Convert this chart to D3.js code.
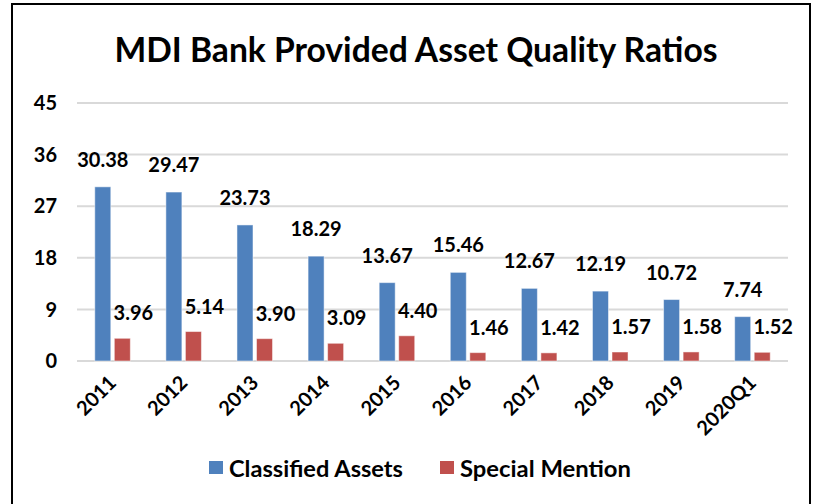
<!DOCTYPE html>
<html>
<head>
<meta charset="utf-8">
<script src="https://cdn.jsdelivr.net/npm/d3@7"></script>
<style>
  body { margin: 0; background: #fff; }
  text { font-family: Lato, "Open Sans", sans-serif; font-weight: bold; fill: #000; }
</style>
</head>
<body>
<script>
// chart data
var years = ["2011", "2012", "2013", "2014", "2015", "2016", "2017", "2018", "2019", "2020Q1"];
var classified = [30.38, 29.47, 23.73, 18.29, 13.67, 15.46, 12.67, 12.19, 10.72, 7.74];
var special = [3.96, 5.14, 3.90, 3.09, 4.40, 1.46, 1.42, 1.57, 1.58, 1.52];
var yTicks = [0, 9, 18, 27, 36, 45];
var seriesNames = ["Classified Assets", "Special Mention"];
var colors = ["#4f81bd", "#c0504d"];

var width = 817, height = 504;

var svg = d3.select("body").append("svg")
    .attr("width", width)
    .attr("height", height);

/* outer frame */
svg.append("rect")
    .attr("x", 12).attr("y", 4)
    .attr("width", 798).attr("height", 530)
    .attr("fill", "none")
    .attr("stroke", "#000")
    .attr("stroke-width", 2);

/* title */
svg.append("text")
    .attr("x", 416).attr("y", 62)
    .attr("text-anchor", "middle")
    .attr("font-size", 34)
    .attr("textLength", 603)
    .attr("lengthAdjust", "spacingAndGlyphs")
    .text("MDI Bank Provided Asset Quality Ratios");

/* scales */
var x = d3.scaleBand().domain(years).range([77, 788]).padding(0);
var xs = d3.scaleBand().domain([0, 1]).range([0, x.bandwidth()])
    .paddingInner(0.18).paddingOuter(0.91);
var y = d3.scaleLinear().domain([0, 45]).range([361, 103]);

/* gridlines */
svg.append("g").selectAll("line")
    .data(yTicks)
    .join("line")
    .attr("x1", 77).attr("x2", 788)
    .attr("y1", function(d){ return y(d); })
    .attr("y2", function(d){ return y(d); })
    .attr("stroke", "#d9d9d9")
    .attr("stroke-width", 2);

/* y axis labels */
svg.append("g").selectAll("text")
    .data(yTicks)
    .join("text")
    .attr("x", 57)
    .attr("y", function(d){ return y(d); })
    .attr("dy", "0.36em")
    .attr("text-anchor", "end")
    .attr("font-size", 20)
    .text(function(d){ return d; });

/* bars */
var series = [classified, special];
series.forEach(function(vals, s){
    var g = svg.append("g");
    g.selectAll("rect")
	.data(vals)
	.join("rect")
	.attr("x", function(d, i){ return x(years[i]) + xs(s); })
	.attr("y", function(d){ return y(d); })
	.attr("width", xs.bandwidth())
	.attr("height", function(d){ return y(0) - y(d); })
	.attr("fill", colors[s])
	.attr("stroke", "#fff")
	.attr("stroke-opacity", 0.5)
	.attr("stroke-width", 1);

    // value labels
    g.selectAll("text")
	.data(vals)
	.join("text")
	.attr("x", function(d, i){ return x(years[i]) + xs(s) + xs.bandwidth()/2 + (s == 1 ? 11 : 0); })
	.attr("y", function(d){ return y(d) - (s == 1 ? 18 : 20); })
	.attr("text-anchor", "middle")
	.attr("font-size", 20)
	.text(function(d){ return d.toFixed(2); });
});

/* x axis labels */
svg.append("g").selectAll("text")
    .data(years)
    .join("text")
    .attr("transform", function(d){
	return "translate(" + (x(d) + x.bandwidth()/2 + 5) + ",384) rotate(-45)";
    })
    .attr("text-anchor", "end")
    .attr("font-size", 20)
    .text(function(d){ return d; });

/* legend */
var legendX = [209, 440];
var legendW = [174, 171];
seriesNames.forEach(function(name, s){
    svg.append("rect")
	.attr("x", legendX[s]).attr("y", 461)
	.attr("width", 14).attr("height", 13)
	.attr("fill", colors[s]);
    svg.append("text")
	.attr("x", legendX[s] + 20).attr("y", 477)
	.attr("font-size", 22)
	.attr("textLength", legendW[s])
	.attr("lengthAdjust", "spacingAndGlyphs")
	.text(name);
});
</script>
</body>
</html>
